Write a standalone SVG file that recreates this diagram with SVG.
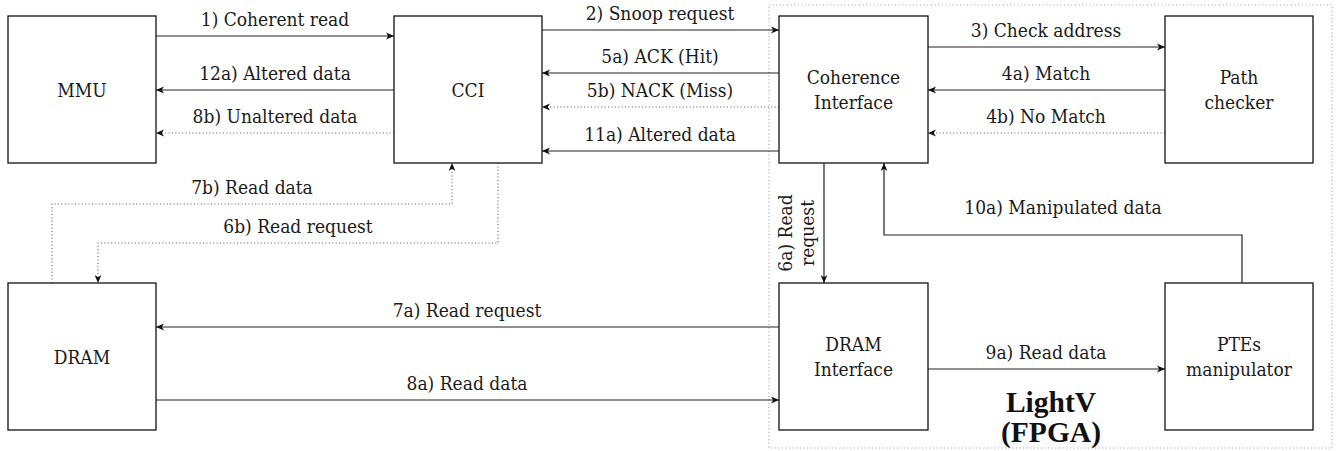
<svg xmlns="http://www.w3.org/2000/svg" width="1336" height="451" viewBox="0 0 1336 451">
<style>
.box{fill:#fff;stroke:#111;stroke-width:1.3}
.lbl{font-family:'DejaVu Serif Condensed','DejaVu Serif',serif;font-size:19px;fill:#1a1a1a;text-anchor:middle}
.big{font-family:'Liberation Serif','Times New Roman',serif;font-size:29.5px;font-weight:bold;fill:#111;text-anchor:middle}
.c{fill:none;stroke:#222;stroke-width:1.2}
.d{fill:none;stroke:#555;stroke-width:1.1;stroke-dasharray:1 2.4}
.border{fill:none;stroke:#999;stroke-width:1.1;stroke-dasharray:1 2.6}
</style>
<defs>
<marker id="arr" viewBox="0 0 8 8" refX="8" refY="4" markerWidth="8" markerHeight="8" orient="auto" markerUnits="userSpaceOnUse">
<path d="M0,0.6 L8,4 L0,7.4 L2.2,4 z" fill="#111"/>
</marker>
</defs>
<rect width="1336" height="451" fill="#fff"/>
<rect id="lightv-border" class="border" x="769" y="5" width="563" height="443"/>
<g id="lightv-title">
<text class="big" x="1051" y="412">LightV</text>
<text class="big" x="1051" y="442">(FPGA)</text>
</g>

<g id="connectors">
<path class="c" d="M156,36 H394" marker-end="url(#arr)"/>
<path class="c" d="M394,90 H156" marker-end="url(#arr)"/>
<path class="d" d="M394,133 H156" marker-end="url(#arr)"/>
<path class="c" d="M542,30 H779" marker-end="url(#arr)"/>
<path class="c" d="M779,73 H542" marker-end="url(#arr)"/>
<path class="d" d="M779,107 H542" marker-end="url(#arr)"/>
<path class="c" d="M779,151 H542" marker-end="url(#arr)"/>
<path class="c" d="M928,47 H1165" marker-end="url(#arr)"/>
<path class="c" d="M1165,90 H928" marker-end="url(#arr)"/>
<path class="d" d="M1165,133 H928" marker-end="url(#arr)"/>
<path class="c" d="M824,163 V283" marker-end="url(#arr)"/>
<path class="c" d="M1242,283 V235 H884 V163" marker-end="url(#arr)"/>
<path class="d" d="M52,283 V204 H452 V163" marker-end="url(#arr)"/>
<path class="d" d="M498,163 V243 H98 V283" marker-end="url(#arr)"/>
<path class="c" d="M779,327 H156" marker-end="url(#arr)"/>
<path class="c" d="M156,400 H779" marker-end="url(#arr)"/>
<path class="c" d="M928,369 H1165" marker-end="url(#arr)"/>

<text class="lbl" x="275" y="26">1) Coherent read</text>
<text class="lbl" x="275" y="80">12a) Altered data</text>
<text class="lbl" x="275" y="123">8b) Unaltered data</text>
<text class="lbl" x="660" y="20">2) Snoop request</text>
<text class="lbl" x="660" y="63">5a) ACK (Hit)</text>
<text class="lbl" x="660" y="97">5b) NACK (Miss)</text>
<text class="lbl" x="660" y="141">11a) Altered data</text>
<text class="lbl" x="1046" y="37">3) Check address</text>
<text class="lbl" x="1046" y="80">4a) Match</text>
<text class="lbl" x="1046" y="123">4b) No Match</text>
<g transform="translate(792,233) rotate(-90)">
<text class="lbl" x="0" y="0">6a) Read</text>
<text class="lbl" x="0" y="22">request</text>
</g>
<text class="lbl" x="1063" y="214">10a) Manipulated data</text>
<text class="lbl" x="252" y="194">7b) Read data</text>
<text class="lbl" x="298" y="233">6b) Read request</text>
<text class="lbl" x="467" y="317">7a) Read request</text>
<text class="lbl" x="467" y="390">8a) Read data</text>
<text class="lbl" x="1046" y="359">9a) Read data</text>
</g>

<g id="mmu"><rect class="box" x="8" y="16" width="148" height="147"/><text class="lbl" x="82" y="97">MMU</text></g>
<g id="cci"><rect class="box" x="394" y="16" width="148" height="147"/><text class="lbl" x="468" y="97">CCI</text></g>
<g id="coherence-interface"><rect class="box" x="779" y="16" width="149" height="147"/><text class="lbl" x="853.5" y="84">Coherence</text><text class="lbl" x="853.5" y="109">Interface</text></g>
<g id="path-checker"><rect class="box" x="1165" y="16" width="148" height="147"/><text class="lbl" x="1239" y="84">Path</text><text class="lbl" x="1239" y="109">checker</text></g>
<g id="dram"><rect class="box" x="8" y="283" width="148" height="147"/><text class="lbl" x="82" y="364">DRAM</text></g>
<g id="dram-interface"><rect class="box" x="779" y="283" width="149" height="147"/><text class="lbl" x="853.5" y="351">DRAM</text><text class="lbl" x="853.5" y="376">Interface</text></g>
<g id="ptes-manipulator"><rect class="box" x="1165" y="283" width="148" height="147"/><text class="lbl" x="1239" y="351">PTEs</text><text class="lbl" x="1239" y="376">manipulator</text></g>
</svg>
